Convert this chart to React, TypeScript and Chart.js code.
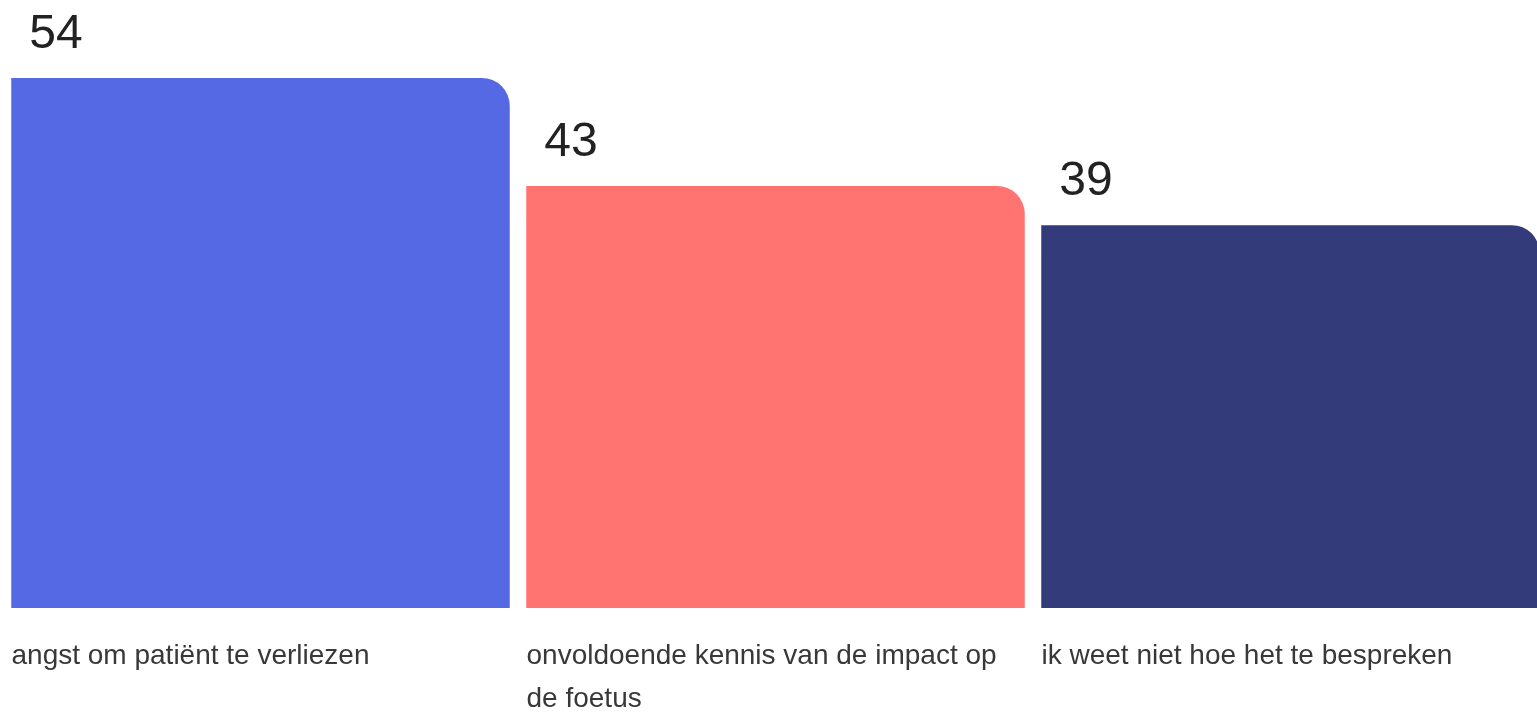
import React, { useEffect, useRef } from "react";
import { Chart, registerables } from "chart.js";

Chart.register(...registerables);

const categories: string[][] = [
  ["angst om patiënt te verliezen"],
  ["onvoldoende kennis van de impact op", "de foetus"],
  ["ik weet niet hoe het te bespreken"],
];
const values: number[] = [54, 43, 39];
const barColors: string[] = ["#5669E4", "#FF7371", "#333B7A"];

const FONT = "'Liberation Sans', Arial, sans-serif";

const valueLabelPlugin = {
  id: "valueLabels",
  afterDatasetsDraw(chart: any) {
    const ctx = chart.ctx;
    const meta = chart.getDatasetMeta(0);
    ctx.save();
    ctx.font = `48px ${FONT}`;
    ctx.fillStyle = "#222222";
    ctx.textAlign = "left";
    ctx.textBaseline = "alphabetic";
    meta.data.forEach((bar: any, i: number) => {
      const { x, y, width } = bar.getProps(["x", "y", "width"], true);
      ctx.fillText(String(values[i]), x - width / 2 + 18, y - 30);
    });
    ctx.restore();
  },
};

export default function App() {
  const ref = useRef<HTMLCanvasElement | null>(null);

  useEffect(() => {
    if (!ref.current) return;
    const chart = new Chart(ref.current, {
      type: "bar",
      data: {
        labels: categories,
        datasets: [
          {
            data: values,
            backgroundColor: barColors,
            borderWidth: 0,
            borderRadius: { topLeft: 0, topRight: 28, bottomLeft: 0, bottomRight: 0 },
            borderSkipped: false,
            categoryPercentage: 1,
            barPercentage: 0.968,
          },
        ],
      },
      options: {
        responsive: false,
        animation: false,
        devicePixelRatio: 1,
        layout: { padding: { top: 19, left: 0, right: 0, bottom: 0 } },
        plugins: {
          legend: { display: false },
          tooltip: { enabled: false },
        },
        scales: {
          y: {
            display: false,
            min: 0,
            max: 60,
          },
          x: {
            offset: true,
            grid: { display: false, drawTicks: false },
            border: { display: false },
            afterFit: (scale: any) => {
              scale.paddingLeft = 0;
              scale.paddingRight = 0;
            },
            ticks: {
              autoSkip: false,
              maxRotation: 0,
              minRotation: 0,
              align: "start",
              labelOffset: -249,
              padding: 27,
              color: "#383838",
              font: { family: FONT, size: 28, lineHeight: 43 / 28 },
            },
          },
        },
      },
      plugins: [valueLabelPlugin],
    } as any);
    return () => chart.destroy();
  }, []);

  return (
    <div
      style={{
        position: "fixed",
        left: 0,
        top: 0,
        width: "100vw",
        height: "100vh",
        overflow: "hidden",
        background: "#ffffff",
      }}
    >
      <div style={{ position: "absolute", left: 3, top: 0, width: 1545, height: 748 }}>
        <canvas ref={ref} width={1545} height={748} style={{ display: "block" }} />
      </div>
    </div>
  );
}
